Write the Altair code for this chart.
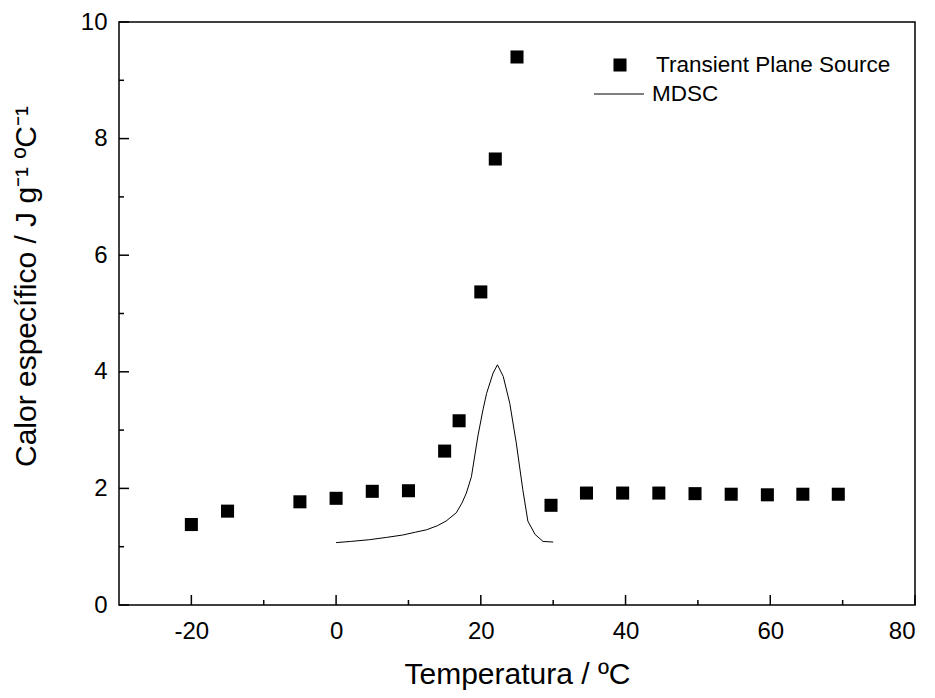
import altair as alt
import pandas as pd

# Transient Plane Source measurements
tps_T = [-20, -15, -5, 0, 5, 10, 15, 17, 20, 22, 25, 29.7, 34.6, 39.6, 44.6, 49.6, 54.6, 59.6, 64.5, 69.4]
tps_cp = [1.38, 1.61, 1.77, 1.83, 1.95, 1.96, 2.64, 3.16, 5.37, 7.65, 9.40, 1.71, 1.92, 1.92, 1.92, 1.91, 1.90, 1.89, 1.90, 1.90]

# MDSC curve
mdsc_T = [0, 2, 4.6, 7, 9.2, 11, 12.5, 14, 15.2, 16.6, 17.4, 18.0, 18.7, 19.6, 20.3, 20.8, 21.7, 22.3,
          23.1, 24.0, 24.9, 25.8, 26.5, 27.5, 28.6, 30.0]
mdsc_cp = [1.07, 1.09, 1.12, 1.16, 1.20, 1.25, 1.29, 1.36, 1.44, 1.58, 1.75, 1.92, 2.20, 2.90, 3.35, 3.63, 3.98, 4.12,
           3.92, 3.46, 2.78, 1.98, 1.44, 1.21, 1.09, 1.08]

x_major = [-20, 0, 20, 40, 60, 80]
x_minor = [-10, 10, 30, 50, 70]
y_major = [0, 2, 4, 6, 8, 10]
y_minor = [1, 3, 5, 7, 9]

legend_labels = ["Transient Plane Source", "MDSC"]

FONT = "Liberation Sans"
W, H = 796, 583
LABEL_EXPR = "datum.value < 0 ? '-' + abs(datum.value) : '' + datum.value"

xs = alt.Scale(domain=[-30, 80], nice=False, zero=False)
ys = alt.Scale(domain=[0, 10], nice=False, zero=False)

tps_df = pd.DataFrame({"T": tps_T, "cp": tps_cp})
mdsc_df = pd.DataFrame({"T": mdsc_T, "cp": mdsc_cp})

points = alt.Chart(tps_df).mark_square(size=170, color="black", opacity=1).encode(
    x=alt.X("T:Q", scale=xs, axis=alt.Axis(
        title="Temperatura / ºC", values=x_major, ticks=False, domain=False, grid=False,
        labelExpr=LABEL_EXPR,
        labelFont=FONT, labelFontSize=24, labelColor="black", labelPadding=14,
        titleFont=FONT, titleFontSize=30, titleFontWeight="normal", titleColor="black",
        titleBaseline="alphabetic", titleY=78)),
    y=alt.Y("cp:Q", scale=ys, axis=alt.Axis(
        title="Calor específico / J g⁻¹ ºC⁻¹", values=y_major, ticks=False, domain=False, grid=False,
        labelExpr=LABEL_EXPR,
        labelFont=FONT, labelFontSize=24, labelColor="black", labelPadding=12,
        titleFont=FONT, titleFontSize=30, titleFontWeight="normal", titleColor="black",
        titleBaseline="alphabetic", titleX=-84, titleY=264, titleAlign="center")),
)

line = alt.Chart(mdsc_df).mark_line(color="black", strokeWidth=1).encode(
    x=alt.X("T:Q", scale=xs), y=alt.Y("cp:Q", scale=ys), order="T:Q"
)

xmaj = alt.Chart(pd.DataFrame({"v": x_major})).mark_rule(color="black", strokeWidth=1.5).encode(
    x=alt.X("v:Q", scale=xs), y=alt.value(H), y2=alt.value(H - 10))
xmin = alt.Chart(pd.DataFrame({"v": x_minor})).mark_rule(color="black", strokeWidth=1.5).encode(
    x=alt.X("v:Q", scale=xs), y=alt.value(H), y2=alt.value(H - 5))
ymaj = alt.Chart(pd.DataFrame({"v": y_major})).mark_rule(color="black", strokeWidth=1.5).encode(
    y=alt.Y("v:Q", scale=ys), x=alt.value(0), x2=alt.value(10))
ymin = alt.Chart(pd.DataFrame({"v": y_minor})).mark_rule(color="black", strokeWidth=1.5).encode(
    y=alt.Y("v:Q", scale=ys), x=alt.value(0), x2=alt.value(5))

leg_df = pd.DataFrame({"label": legend_labels})
leg_sq = alt.Chart(leg_df).transform_filter(alt.datum.label == legend_labels[0]).mark_square(
    size=170, color="black", opacity=1).encode(x=alt.value(501), y=alt.value(43))
leg_t1 = alt.Chart(leg_df).transform_filter(alt.datum.label == legend_labels[0]).mark_text(
    align="left", baseline="middle", font=FONT, fontSize=22.5, color="black").encode(
    x=alt.value(537), y=alt.value(43), text="label:N")
leg_ln = alt.Chart(leg_df).transform_filter(alt.datum.label == legend_labels[1]).mark_rule(
    color="black", strokeWidth=1).encode(x=alt.value(475), x2=alt.value(525), y=alt.value(72))
leg_t2 = alt.Chart(leg_df).transform_filter(alt.datum.label == legend_labels[1]).mark_text(
    align="left", baseline="middle", font=FONT, fontSize=22.5, color="black").encode(
    x=alt.value(533), y=alt.value(72), text="label:N")

chart = alt.layer(points, line, xmaj, xmin, ymaj, ymin, leg_sq, leg_t1, leg_ln, leg_t2).properties(
    width=W, height=H,
    autosize=alt.AutoSizeParams(type="none"),
    padding={"left": 119, "top": 22, "right": 20, "bottom": 93},
    background="white",
).configure_view(stroke="black", strokeWidth=1.5)

chart.save("out.html", embed_options={"renderer": "svg", "actions": False})
